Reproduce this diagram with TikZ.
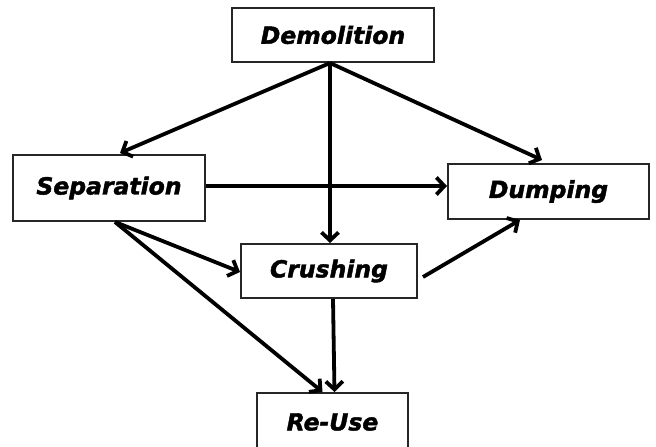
\documentclass[tikz,border=0pt]{standalone}
\usepackage{fontspec}
\newfontfamily\lblfont{DejaVu Sans}[BoldItalicFeatures={FakeBold=1.8}]
\usetikzlibrary{arrows.meta,calc}
\tikzset{
  stage/.style={draw=black!85, line width=2pt, fill=white, inner sep=0pt,
    font=\lblfont\bfseries\itshape\fontsize{23.5}{27}\selectfont},
  flow/.style={line width=3.8pt, -{Straight Barb[length=8pt,width=17pt]}}
}
\begin{document}
\begin{tikzpicture}[x=1pt,y=1pt]
  \useasboundingbox (0,0) rectangle (656,447);
  % stages of the process
  \node[stage, minimum width=202pt, minimum height=54pt] (dem) at (333,412) {Demolition};
  \node[stage, minimum width=192pt, minimum height=66pt] (sep) at (109,259) {Separation};
  \node[stage, minimum width=201pt, minimum height=55pt] (dum) at (548.5,255.5) {Dumping};
  \node[stage, minimum width=176pt, minimum height=54pt] (cru) at (329,176) {Crushing};
  \node[stage, minimum width=151pt, minimum height=58pt] (reu) at (332.5,25) {Re-Use};
  % flows between stages
  \coordinate (demout) at ($(dem.south)+(-3,0)$);
  \coordinate (sepout) at ($(sep.south)+(6,0)$);
  \draw[flow] (demout) -- ($(sep.north)+(11,1)$);
  \draw[flow] (demout) -- ($(dum.north)+(-6.5,3)$);
  \draw[flow] (demout) -- (demout |- cru.north);
  \draw[flow] ($(sep.east)+(0,2)$) -- ($(sep.east -| dum.west)+(0,2)$);
  \draw[flow] (sepout) -- ($(cru.west)+(0,-1)$);
  \draw[flow] (sepout) -- ($(reu.north)+(-10,0)$);
  \draw[flow] ($(cru.south)+(4,0)$) -- ($(reu.north)+(2,0)$);
  \draw[flow] ($(cru.east)+(5,-6)$) -- ($(dum.south)+(-28.5,0)$);
\end{tikzpicture}
\end{document}
